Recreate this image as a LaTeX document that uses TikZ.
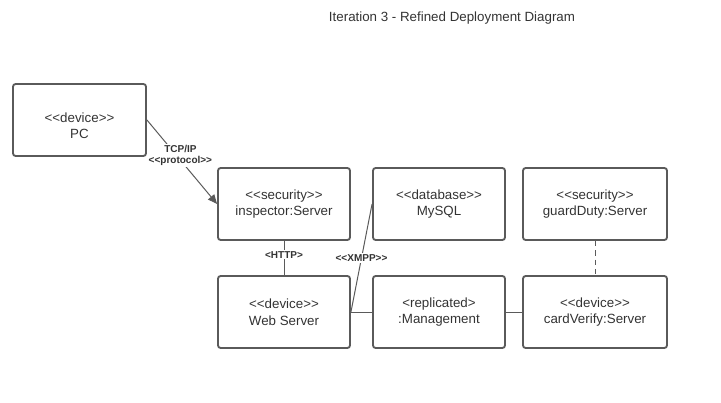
\documentclass[tikz,border=0pt]{standalone}
\usepackage{fontspec}
\newfontfamily\diagfont{Liberation Sans}
\usetikzlibrary{arrows.meta}
\definecolor{boxline}{HTML}{5A5A5A}
\definecolor{boxtext}{HTML}{333333}
\tikzstyle{devbox}=[rectangle,draw=boxline,line width=1.4pt,rounded corners=2pt,minimum height=54pt,inner sep=0pt,align=center,text=boxtext,font=\diagfont\fontsize{10}{12.5}\selectfont]
\tikzstyle{boxtxt}=[align=center,inner sep=0pt,text=boxtext,font=\diagfont\fontsize{10}{12}\selectfont]
\tikzstyle{link} = [draw=boxline,line width=0.75pt]
\tikzstyle{proto} = [fill=white,inner sep=1pt,align=center,text=boxtext,font=\diagfont\bfseries\fontsize{7.5}{8.5}\selectfont]
\begin{document}
\begin{tikzpicture}[x=0.75pt,y=-0.75pt]

    \useasboundingbox (0,0) rectangle (721,403);

    \node[text=boxtext, font=\diagfont\fontsize{10}{12}\selectfont] (title) at (452,18) {Iteration 3 - Refined Deployment Diagram};

    % PC box, its text sits a bit low
    \node[devbox, minimum width=99.75pt] (pc) at (79.5,120) {};
    \node[boxtxt] (pctext) at (79.5,126) {<<device>>\\PC};

     \foreach \x/\y/\w/\name/\stereo/\label in {284/204/99/inspector/{<<security>>}/{inspector:Server}, 439/204/99/mysql/{<<database>>}/MySQL, 595/204/108/guard/{<<security>>}/{guardDuty:Server}, 284/312/99/web/{<<device>>}/{Web Server}, 439/312/99/mgmt/{<replicated>}/{:Management}, 595/312/108/card/{<<device>>}/{cardVerify:Server}}
        \node[devbox, minimum width=\w pt] (\name) at (\x,\y) {\stereo\\\label};

        \draw[link, -{Triangle[length=7pt,width=6pt]}] (pc.east) -- node[proto, pos=0.42, xshift=3pt] {TCP/IP\\<<protocol>>} (inspector.west);

        \draw[link] (inspector.south) -- node[proto, pos=0.4] {<HTTP>} (web.north);
        \draw[link] (web.east) -- node[proto] {<<XMPP>>} (mysql.west);

    \foreach \source/ \dest in {web/mgmt, mgmt/card}
        \path[link] (\source.east) -- (\dest.west);

        \draw[link, dash pattern=on 4pt off 3pt] (guard.south) -- (card.north);

\end{tikzpicture}
\end{document}
